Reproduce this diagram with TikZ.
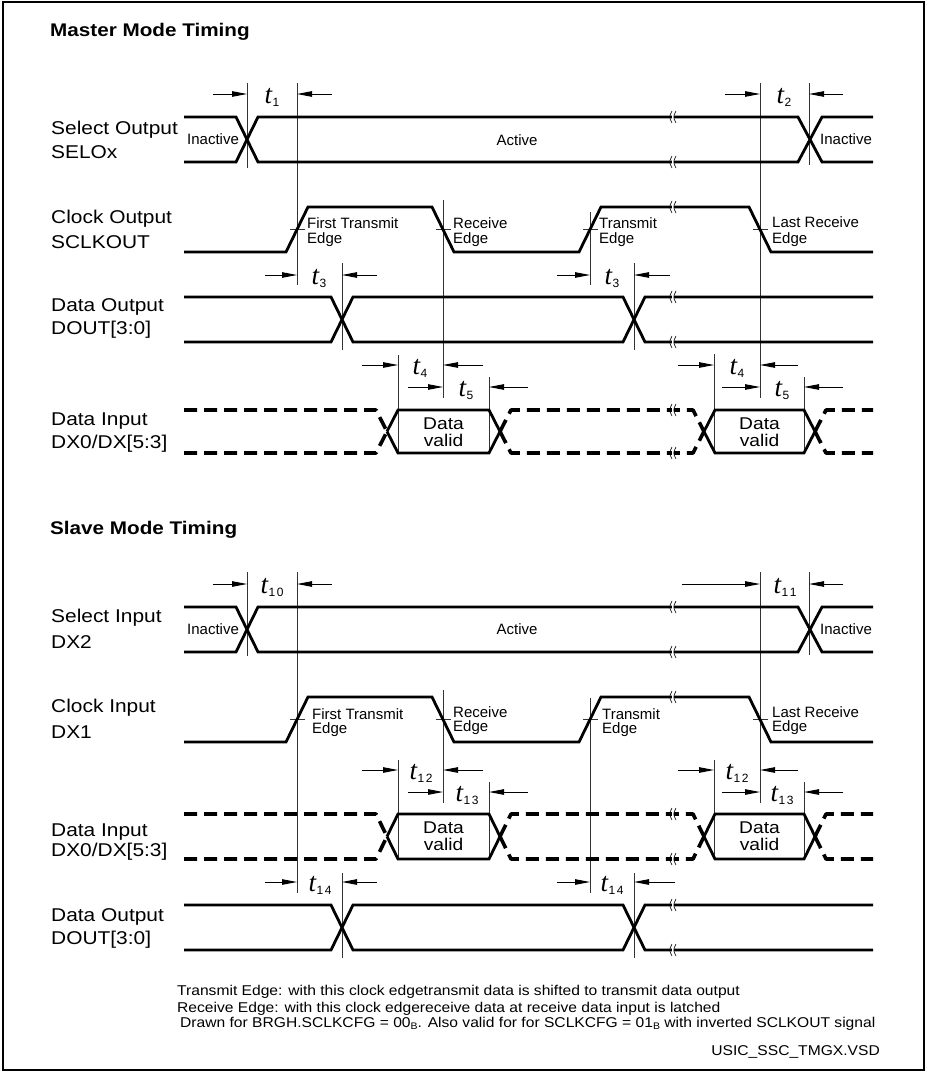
\documentclass[tikz,border=0pt]{standalone}
\usepackage{fontspec}
\setmainfont{Liberation Sans}
\newfontfamily\labf{Liberation Sans}[FakeStretch=1.13]
\newfontfamily\footf{Liberation Sans}[FakeStretch=1.1]
\newfontfamily\serf{Liberation Serif}
\usetikzlibrary{arrows.meta}
\newcommand\tlab[1]{{\serf\itshape\fontsize{27}{27}\selectfont t}\kern0.6pt\raisebox{-3pt}{\fontsize{12}{12}\selectfont #1}}
\newcommand\brkm[2]{%
  \fill[white] (#1-1.2,#2-4) rectangle (#1+1.2,#2+4);
  \draw[line width=0.6pt] (#1-1,#2-6) .. controls (#1-4,#2) .. (#1-1,#2+6);
  \draw[line width=0.6pt] (#1+3,#2-6) .. controls (#1,#2) .. (#1+3,#2+6);}
\newcommand\dxsig[2]{%
  \draw[dsig] (184,#1)--(376,#1)--(387,{(#1+#2)/2});
  \draw[dsig] (184,#2)--(376,#2)--(387,{(#1+#2)/2});
  \draw[sig] (387,{(#1+#2)/2})--(398,#1)--(489,#1)--(500,{(#1+#2)/2});
  \draw[sig] (387,{(#1+#2)/2})--(398,#2)--(489,#2)--(500,{(#1+#2)/2});
  \draw[dsig] (500,{(#1+#2)/2})--(511,#1)--(693,#1)--(704,{(#1+#2)/2});
  \draw[dsig] (500,{(#1+#2)/2})--(511,#2)--(693,#2)--(704,{(#1+#2)/2});
  \draw[sig] (704,{(#1+#2)/2})--(715,#1)--(804,#1)--(815,{(#1+#2)/2});
  \draw[sig] (704,{(#1+#2)/2})--(715,#2)--(804,#2)--(815,{(#1+#2)/2});
  \draw[dsig] (815,{(#1+#2)/2})--(826,#1)--(873,#1);
  \draw[dsig] (815,{(#1+#2)/2})--(826,#2)--(873,#2);}
\begin{document}
\begin{tikzpicture}[x=1pt,y=-1pt,
  sig/.style={line width=2.8pt,line join=miter},
  dsig/.style={line width=3.6pt,dash pattern=on 13pt off 7pt,line join=round},
  ref/.style={line width=0.9pt,black!80},
  tarr/.style={-{Triangle[length=15pt,width=5.5pt]},line width=0.9pt},
  lab/.style={font=\labf\fontsize{18.5}{20}\selectfont,anchor=west,inner sep=0pt},
  sml/.style={font=\fontsize{15}{15}\selectfont,inner sep=0pt},
  ttl/.style={font=\labf\bfseries\fontsize{18.3}{19}\selectfont,anchor=west,inner sep=0pt},
  tl/.style={anchor=base,inner sep=0pt},
  dv/.style={font=\labf\fontsize{17}{16.5}\selectfont,align=center,inner sep=0pt},
  foot/.style={font=\footf\fontsize{14.2}{15}\selectfont,anchor=west,inner sep=0pt}]
\useasboundingbox (0,0) rectangle (926,1073);
\draw[line width=1.5pt] (3,2) rectangle (924,1070);

% ================= MASTER =================
\node[ttl] (mtitle) at (50,32) {Master Mode Timing};

% reference lines
\draw[ref] (247,83)--(247,168);
\draw[ref] (297,83)--(297,285);
\draw[ref] (342,263)--(342,350);
\draw[ref] (443,200)--(443,398);
\draw[ref] (590,212)--(590,285);
\draw[ref] (634,263)--(634,350);
\draw[ref] (760,83)--(760,398);
\draw[ref] (809,83)--(809,165);
\draw[ref] (398,355)--(398,453);
\draw[ref] (489,377)--(489,453);
\draw[ref] (714,354)--(714,453);
\draw[ref] (804,377)--(804,453);
% clock edge ticks
\foreach \xx in {297,443,590,760} \draw[ref] (\xx-7,229.5)--(\xx+8,229.5);

% signals
\draw[sig] (184,117)--(236,117)--(258,162)--(798,162)--(822,117)--(873,117);
\draw[sig] (184,162)--(236,162)--(258,117)--(798,117)--(822,162)--(873,162);
\draw[sig] (184,252)--(286,252)--(308,207)--(432,207)--(454,252)--(579,252)--(601,207)--(749,207)--(771,252)--(873,252);
\draw[sig] (184,297)--(331,297)--(353,342)--(623,342)--(645,297)--(873,297);
\draw[sig] (184,342)--(331,342)--(353,297)--(623,297)--(645,342)--(873,342);
\dxsig{410}{453}
\brkm{673}{117}\brkm{673}{162}\brkm{673}{207}\brkm{673}{297}\brkm{673}{342}\brkm{673}{410}\brkm{673}{453}

% timing arrows
\draw[tarr] (213,94)--(247,94); \draw[tarr] (332,94)--(297,94);
\node[tl] (t1) at (272,103) {\tlab{1}};
\draw[tarr] (725,94)--(760,94); \draw[tarr] (843,94)--(809,94);
\node[tl] (t2) at (784,103) {\tlab{2}};
\draw[tarr] (265,275)--(297,275); \draw[tarr] (377,275)--(342,275);
\node[tl] (t3a) at (319,284) {\tlab{3}};
\draw[tarr] (557,275)--(590,275); \draw[tarr] (670,275)--(634,275);
\node[tl] (t3b) at (612,284) {\tlab{3}};
\draw[tarr] (362,365)--(398,365); \draw[tarr] (483,365)--(443,365);
\node[tl] (t4a) at (420,374) {\tlab{4}};
\draw[tarr] (408,387)--(443,387); \draw[tarr] (528,387)--(489,387);
\node[tl] (t5a) at (466,396) {\tlab{5}};
\draw[tarr] (678,365)--(714,365); \draw[tarr] (798,365)--(760,365);
\node[tl] (t4b) at (737,374) {\tlab{4}};
\draw[tarr] (722,387)--(760,387); \draw[tarr] (843,387)--(804,387);
\node[tl] (t5b) at (782,396) {\tlab{5}};

% labels
\node[lab] (m1a) at (51,130) {Select Output};
\node[lab] (m1b) at (51,152) {SELOx};
\node[lab] (m2a) at (51,219) {Clock Output};
\node[lab] (m2b) at (51,242) {SCLKOUT};
\node[lab] (m3a) at (51,307) {Data Output};
\node[lab] (m3b) at (51,330) {DOUT[3:0]};
\node[lab] (m4a) at (51,421) {Data Input};
\node[lab] (m4b) at (51,444) {DX0/DX[5:3]};

\node[sml] (mina) at (213,139) {Inactive};
\node[sml] (mact) at (517,140) {Active};
\node[sml] (minb) at (846,139) {Inactive};
\node[sml,anchor=west] (mft) at (307,223) {First Transmit};
\node[sml,anchor=west] (mfte) at (307,240) {Edge};
\node[sml,anchor=west] (mre) at (453,223) {Receive};
\node[sml,anchor=west] (mree) at (453,240) {Edge};
\node[sml,anchor=west] (mtr) at (599,223) {Transmit};
\node[sml,anchor=west] (mtre) at (599,240) {Edge};
\node[sml,anchor=west] (mlr) at (772,222) {Last Receive};
\node[sml,anchor=west] (mlre) at (772,240) {Edge};
\node[dv] (mdv1) at (443.5,432) {Data\\valid};
\node[dv] (mdv2) at (759.5,432) {Data\\valid};

% ================= SLAVE =================
\node[ttl] (stitle) at (50,530) {Slave Mode Timing};

\draw[ref] (247,572)--(247,656);
\draw[ref] (297,572)--(297,893);
\draw[ref] (443,690)--(443,803);
\draw[ref] (590,698)--(590,893);
\draw[ref] (760,572)--(760,803);
\draw[ref] (809,572)--(809,655);
\draw[ref] (398,760)--(398,859);
\draw[ref] (489,782)--(489,859);
\draw[ref] (714,760)--(714,859);
\draw[ref] (804,782)--(804,859);
\draw[ref] (342,873)--(342,958);
\draw[ref] (634,873)--(634,958);
\foreach \xx in {297,443,590,760} \draw[ref] (\xx-7,719.5)--(\xx+8,719.5);

\draw[sig] (184,607)--(236,607)--(258,652)--(798,652)--(822,607)--(873,607);
\draw[sig] (184,652)--(236,652)--(258,607)--(798,607)--(822,652)--(873,652);
\draw[sig] (184,742)--(286,742)--(308,697)--(432,697)--(454,742)--(579,742)--(601,697)--(749,697)--(771,742)--(873,742);
\dxsig{814}{859}
\draw[sig] (184,905)--(331,905)--(353,950)--(623,950)--(645,905)--(873,905);
\draw[sig] (184,950)--(331,950)--(353,905)--(623,905)--(645,950)--(873,950);
\brkm{673}{607}\brkm{673}{652}\brkm{673}{697}\brkm{673}{814}\brkm{673}{859}\brkm{673}{905}\brkm{673}{950}

\draw[tarr] (213,584)--(247,584); \draw[tarr] (332,584)--(297,584);
\node[tl] (t10) at (272,593) {\tlab{1\kern1.5pt0}};
\draw[tarr] (682,584)--(760,584); \draw[tarr] (843,584)--(809,584);
\node[tl] (t11) at (785,593) {\tlab{1\kern1.5pt1}};
\draw[tarr] (362,770)--(398,770); \draw[tarr] (483,770)--(443,770);
\node[tl] (t12a) at (421,779) {\tlab{1\kern1.5pt2}};
\draw[tarr] (408,792)--(443,792); \draw[tarr] (528,792)--(489,792);
\node[tl] (t13a) at (467,801) {\tlab{1\kern1.5pt3}};
\draw[tarr] (678,770)--(714,770); \draw[tarr] (798,770)--(760,770);
\node[tl] (t12b) at (737,779) {\tlab{1\kern1.5pt2}};
\draw[tarr] (722,792)--(760,792); \draw[tarr] (843,792)--(804,792);
\node[tl] (t13b) at (782,801) {\tlab{1\kern1.5pt3}};
\draw[tarr] (265,882)--(297,882); \draw[tarr] (377,882)--(342,882);
\node[tl] (t14a) at (320,891) {\tlab{1\kern1.5pt4}};
\draw[tarr] (557,882)--(590,882); \draw[tarr] (675,882)--(634,882);
\node[tl] (t14b) at (612,891) {\tlab{1\kern1.5pt4}};

\node[lab] (s1a) at (51,618) {Select Input};
\node[lab] (s1b) at (51,642) {DX2};
\node[lab] (s2a) at (51,708) {Clock Input};
\node[lab] (s2b) at (51,732) {DX1};
\node[lab] (s3a) at (51,832) {Data Input};
\node[lab] (s3b) at (51,852) {DX0/DX[5:3]};
\node[lab] (s4a) at (51,917) {Data Output};
\node[lab] (s4b) at (51,940) {DOUT[3:0]};

\node[sml] (sina) at (213,629) {Inactive};
\node[sml] (sact) at (517,629) {Active};
\node[sml] (sinb) at (846,629) {Inactive};
\node[sml,anchor=west] (sft) at (312,714) {First Transmit};
\node[sml,anchor=west] (sfte) at (312,730) {Edge};
\node[sml,anchor=west] (sre) at (453,712) {Receive};
\node[sml,anchor=west] (sree) at (453,728) {Edge};
\node[sml,anchor=west] (str) at (602,714) {Transmit};
\node[sml,anchor=west] (stre) at (602,730) {Edge};
\node[sml,anchor=west] (slr) at (772,712) {Last Receive};
\node[sml,anchor=west] (slre) at (772,728) {Edge};
\node[dv] (sdv1) at (443.5,836) {Data\\valid};
\node[dv] (sdv2) at (759.5,836) {Data\\valid};

% footer
\node[foot] (f1) at (177,992) {Transmit Edge: with this clock edgetransmit data is shifted to transmit data output};
\node[foot] (f2) at (177,1009) {Receive Edge: with this clock edgereceive data at receive data input is latched};
\node[foot] (f3) at (180,1024) {Drawn for BRGH.SCLKCFG = 00\raisebox{-2pt}{\fontsize{9.5}{9.5}\selectfont B}. Also valid for for SCLKCFG = 01\raisebox{-2pt}{\fontsize{9.5}{9.5}\selectfont B} with inverted SCLKOUT signal};
\node[foot,anchor=east] (f4) at (880,1052) {USIC\_SSC\_TMGX.VSD};
\end{tikzpicture}
\end{document}
